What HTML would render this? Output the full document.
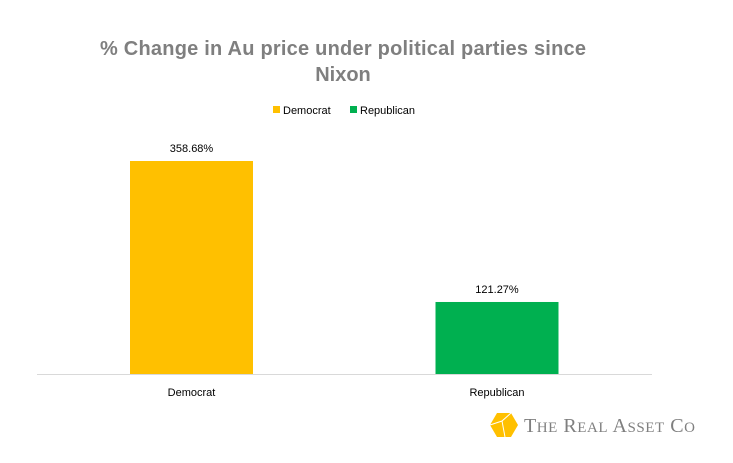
<!DOCTYPE html>
<html><head><meta charset="utf-8"><style>
body{margin:0;background:#fff;}
svg{display:block;font-family:"Liberation Sans",sans-serif;}
</style></head><body>
<svg id="chart" width="733" height="463" viewBox="0 0 733 463">
<text x="343" y="55" text-anchor="middle" font-size="20" font-weight="bold" fill="#7f7f7f" textLength="486">% Change in Au price under political parties since</text>
<text x="343" y="81" text-anchor="middle" font-size="20" font-weight="bold" fill="#7f7f7f">Nixon</text>
<g>
<rect x="273" y="106" width="7" height="7" fill="#ffc000"/>
<text x="283" y="114" font-size="11" fill="#000">Democrat</text>
<rect x="350" y="106" width="7" height="7" fill="#00b050"/>
<text x="360" y="114" font-size="11" fill="#000">Republican</text>
</g>
<g id="bars"></g>
<line x1="37" y1="374.5" x2="652" y2="374.5" stroke="#d9d9d9" stroke-width="1"/>
<g>
<polygon points="497,413 511,413 518,425 511,437 497,437 490,425" fill="#ffc000"/>
<polyline points="490,425 502,421 511,413" fill="none" stroke="#fff" stroke-width="1"/>
<line x1="502" y1="421" x2="505" y2="437" stroke="#fff" stroke-width="1"/>
<text x="524" y="432" font-family="Liberation Serif,serif" font-size="20" fill="#7f7f7f" textLength="171">T<tspan font-size="15">HE</tspan> R<tspan font-size="15">EAL</tspan> A<tspan font-size="15">SSET</tspan> C<tspan font-size="15">O</tspan></text>
</g>
</svg>
<script>
const categories=["Democrat","Republican"];
const values=[358.68,121.27];
const valueLabels=["358.68%","121.27%"];
const colors=["#ffc000","#00b050"];
const baseY=374, pxPerUnit=213/358.68;
function yScale(v){return baseY-v*pxPerUnit;}
function xCenter(i){return 191.5+i*305.5;}
const g=document.getElementById('bars');
const ns="http://www.w3.org/2000/svg";
categories.forEach((c,i)=>{
 const r=document.createElementNS(ns,'rect');
 r.setAttribute('x',xCenter(i)-61.5);r.setAttribute('width',123);
 r.setAttribute('y',yScale(values[i]));r.setAttribute('height',baseY-yScale(values[i]));
 r.setAttribute('fill',colors[i]);
 
 
 g.appendChild(r);
 const t=document.createElementNS(ns,'text');
 t.setAttribute('x',xCenter(i));t.setAttribute('y',yScale(values[i])-9);
 t.setAttribute('text-anchor','middle');t.setAttribute('font-size','11');
 t.textContent=valueLabels[i];
 
 
 g.appendChild(t);
 const l=document.createElementNS(ns,'text');
 l.setAttribute('x',xCenter(i));l.setAttribute('y',396);
 l.setAttribute('text-anchor','middle');l.setAttribute('font-size','11');
 l.textContent=c;
 
 
 g.appendChild(l);
});
</script>
</body></html>
